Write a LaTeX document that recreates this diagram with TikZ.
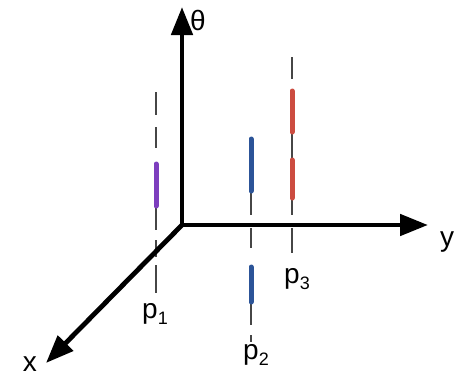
\documentclass[tikz,border=0pt]{standalone}
\usepackage{fontspec}
\setmainfont{Liberation Sans}
\usetikzlibrary{arrows.meta}
\definecolor{cpurple}{RGB}{125,62,190}
\definecolor{cblue}{RGB}{44,84,152}
\definecolor{cred}{RGB}{204,76,64}
\definecolor{cguide}{RGB}{70,70,70}
\newcommand\plab[1]{p\raisebox{-6pt}{\fontsize{18}{18}\selectfont #1}}
\tikzset{
  axis/.style={line width=4.8pt, black, -{Triangle[length=28pt,width=21pt]}},
  guide/.style={line width=1.3pt, cguide},
  seg/.style={line width=5pt, line cap=round},
  lbl/.style={font=\fontsize{28}{28}\selectfont, inner sep=0pt},
}
\begin{document}
\begin{tikzpicture}[x=1pt,y=-1pt]
\useasboundingbox (0,0) rectangle (456,378);
% guide dashes p1
\foreach \a/\b in {92/115,127/148,162/208,208/230,240/257,265/293}
  \draw[guide] (156,\a) -- (156,\b);
% guide dashes p2
\foreach \a/\b in {140/193,193/215,228/248,265/304,304/325,335/342}
  \draw[guide] (251,\a) -- (251,\b);
% guide dashes p3
\foreach \a/\b in {57/79,90/134,134/158,158/200,200/215,228/253}
  \draw[guide] (292,\a) -- (292,\b);
% axes
\coordinate (O) at (182,225);
\coordinate (T) at (182,7);
\coordinate (Y) at (428,225);
\coordinate (X) at (46,363);
\draw[line width=4.8pt, black, {Triangle[length=28pt,width=21pt]}-{Triangle[length=28pt,width=21pt]}, line join=miter] (T) -- (O) -- (Y);
\draw[axis] (O) -- (X);
% coloured segments
\draw[seg, cpurple] (156,164) -- (156,206);
\draw[seg, cblue] (251,139) -- (251,191);
\draw[seg, cblue] (251,267) -- (251,302);
\draw[seg, cred] (292,91) -- (292,132);
\draw[seg, cred] (292,160) -- (292,198);
% labels
\node[lbl] (theta) at (198,20) {θ};
\node[lbl] (ylab) at (447,242) {y};
\node[lbl] (xlab) at (30,364) {x};
\node[lbl] (p1) at (155,314) {\plab{1}};
\node[lbl] (p2) at (256,355) {\plab{2}};
\node[lbl] (p3) at (297,279) {\plab{3}};
\end{tikzpicture}
\end{document}
